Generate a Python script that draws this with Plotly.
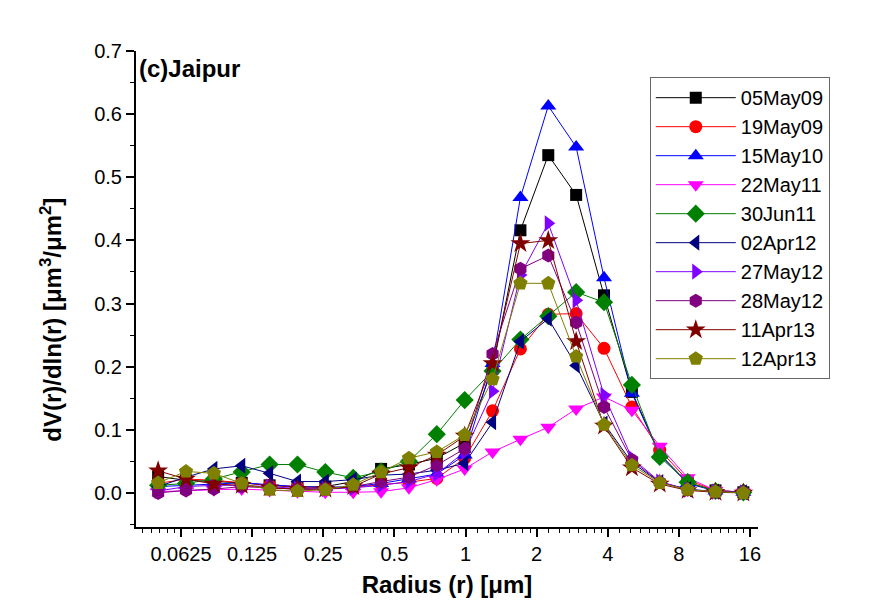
import plotly.graph_objects as go
import numpy as np

radius = [0.050000, 0.065604, 0.086077, 0.112939, 0.148184, 0.194429, 0.255105,
          0.334716, 0.439173, 0.576227, 0.756052, 0.991996, 1.301571, 1.707757,
          2.240702, 2.939966, 3.857452, 5.061260, 6.640745, 8.713145, 11.432287, 15.0]

s_05May09 = [0.026, 0.020, 0.018, 0.016, 0.012, 0.009, 0.010, 0.018, 0.038, 0.045, 0.055, 0.079,
             0.197, 0.416, 0.535, 0.472, 0.313, 0.160, 0.062, 0.016, 0.004, 0.001]
s_19May09 = [0.015, 0.022, 0.020, 0.016, 0.012, 0.010, 0.008, 0.009, 0.013, 0.017, 0.023, 0.055,
             0.130, 0.228, 0.283, 0.284, 0.229, 0.136, 0.068, 0.020, 0.004, 0.001]
s_15May10 = [0.010, 0.012, 0.015, 0.016, 0.013, 0.010, 0.009, 0.010, 0.015, 0.022, 0.030, 0.060,
             0.205, 0.468, 0.613, 0.548, 0.341, 0.158, 0.060, 0.015, 0.003, 0.001]
s_22May11 = [0.002, 0.004, 0.005, 0.006, 0.004, 0.002, 0.001, 0.001, 0.002, 0.008, 0.021, 0.038,
             0.065, 0.085, 0.104, 0.133, 0.152, 0.131, 0.074, 0.024, 0.004, 0.001]
s_30Jun11 = [0.012, 0.015, 0.022, 0.033, 0.045, 0.045, 0.033, 0.024, 0.034, 0.050, 0.093, 0.147,
             0.193, 0.243, 0.280, 0.318, 0.302, 0.171, 0.057, 0.017, 0.003, 0.001]
s_02Apr12 = [0.010, 0.025, 0.038, 0.043, 0.031, 0.018, 0.018, 0.021, 0.028, 0.030, 0.036, 0.047,
             0.112, 0.240, 0.276, 0.202, 0.110, 0.048, 0.017, 0.006, 0.002, 0.001]
s_27May12 = [0.003, 0.010, 0.012, 0.012, 0.010, 0.007, 0.006, 0.008, 0.012, 0.018, 0.030, 0.065,
             0.161, 0.345, 0.427, 0.305, 0.155, 0.055, 0.018, 0.005, 0.002, 0.001]
s_28May12 = [0.000, 0.004, 0.006, 0.010, 0.008, 0.006, 0.006, 0.010, 0.018, 0.025, 0.044, 0.070,
             0.220, 0.355, 0.376, 0.270, 0.136, 0.052, 0.017, 0.005, 0.002, 0.001]
s_11Apr13 = [0.035, 0.022, 0.014, 0.012, 0.008, 0.006, 0.006, 0.010, 0.030, 0.040, 0.060, 0.090,
             0.205, 0.395, 0.400, 0.240, 0.106, 0.040, 0.014, 0.004, 0.001, 0.000]
s_12Apr13 = [0.016, 0.034, 0.031, 0.015, 0.005, 0.003, 0.005, 0.013, 0.033, 0.055, 0.065, 0.092,
             0.180, 0.332, 0.332, 0.216, 0.108, 0.044, 0.016, 0.005, 0.002, 0.000]

series_names = ["05May09", "19May09", "15May10", "22May11", "30Jun11",
                "02Apr12", "27May12", "28May12", "11Apr13", "12Apr13"]
series_values = [s_05May09, s_19May09, s_15May10, s_22May11, s_30Jun11,
                 s_02Apr12, s_27May12, s_28May12, s_11Apr13, s_12Apr13]
colors = ["#000000", "#FF0000", "#0000FF", "#FF00FF", "#008000",
          "#000080", "#8000FF", "#800080", "#800000", "#808000"]
symbols = ["square", "circle", "triangle-up", "triangle-down", "diamond",
           "triangle-left", "triangle-right", "hexagon", "star", "pentagon"]
sizes = [12, 13, 14, 14, 14, 14, 14, 14, 15, 15]

x_tickvals = [0.0625, 0.125, 0.25, 0.5, 1, 2, 4, 8, 16]
x_ticktext = ["0.0625", "0.125", "0.25", "0.5", "1", "2", "4", "8", "16"]

FONT = "Liberation Sans, Arial, sans-serif"

fig = go.Figure()
for name, vals, c, sym, sz in zip(series_names, series_values, colors, symbols, sizes):
    fig.add_trace(go.Scatter(
        x=radius, y=vals, name=name, mode="lines+markers",
        line=dict(color=c, width=1),
        marker=dict(symbol=sym, size=sz, color=c, line=dict(width=0)),
    ))

minor_x = []
for k in range(-5, 5):
    base = 2.0 ** k
    for j in range(1, 8):
        minor_x.append(base * (1 + j / 8))

fig.update_layout(
    width=894, height=613,
    margin=dict(l=128, r=144, t=43, b=94),
    paper_bgcolor="white", plot_bgcolor="white",
    font=dict(family=FONT, size=20, color="black"),
    showlegend=True,
    legend=dict(
        x=0.826, y=0.945, xanchor="left", yanchor="top",
        bordercolor="#666666", borderwidth=1,
        font=dict(family=FONT, size=20, color="black"),
        itemwidth=80, tracegroupgap=0,
        bgcolor="white",
    ),
    xaxis=dict(
        type="log", automargin=False,
        range=[np.log10(0.0403), np.log10(17.3)],
        tickvals=x_tickvals, ticktext=x_ticktext,
        ticks="outside", ticklen=8, tickwidth=1.5, tickcolor="black",
        showline=True, linecolor="black", linewidth=2,
        showgrid=False, zeroline=False,
        minor=dict(tickvals=minor_x, ticks="outside", ticklen=4, tickwidth=1, tickcolor="black"),
        tickfont=dict(size=20),
        title=dict(text="<b>Radius (r) [μm]</b>", font=dict(size=24), standoff=12),
    ),
    yaxis=dict(
        range=[-0.054, 0.7], automargin=False,
        tickvals=[0.0, 0.1, 0.2, 0.3, 0.4, 0.5, 0.6, 0.7],
        ticktext=["0.0", "0.1", "0.2", "0.3", "0.4", "0.5", "0.6", "0.7"],
        ticks="outside", ticklen=8, tickwidth=1.5, tickcolor="black",
        showline=True, linecolor="black", linewidth=2,
        showgrid=False, zeroline=False,
        minor=dict(dtick=0.05, ticks="outside", ticklen=4, tickwidth=1, tickcolor="black"),
        tickfont=dict(size=20),
    ),
)

fig.add_annotation(
    text="<b>dV(r)/dln(r) [μm<sup>3</sup>/μm<sup>2</sup>]</b>", xref="paper", yref="paper",
    x=-0.137, y=0.435, xanchor="center", yanchor="middle", textangle=-90, showarrow=False,
    font=dict(family=FONT, size=24, color="black"),
)

fig.add_annotation(
    text="<b>(c)Jaipur</b>", xref="paper", yref="paper",
    x=0.002, y=0.995, xanchor="left", yanchor="top", showarrow=False,
    font=dict(family=FONT, size=24, color="black"),
)

fig.write_html("out.html")
